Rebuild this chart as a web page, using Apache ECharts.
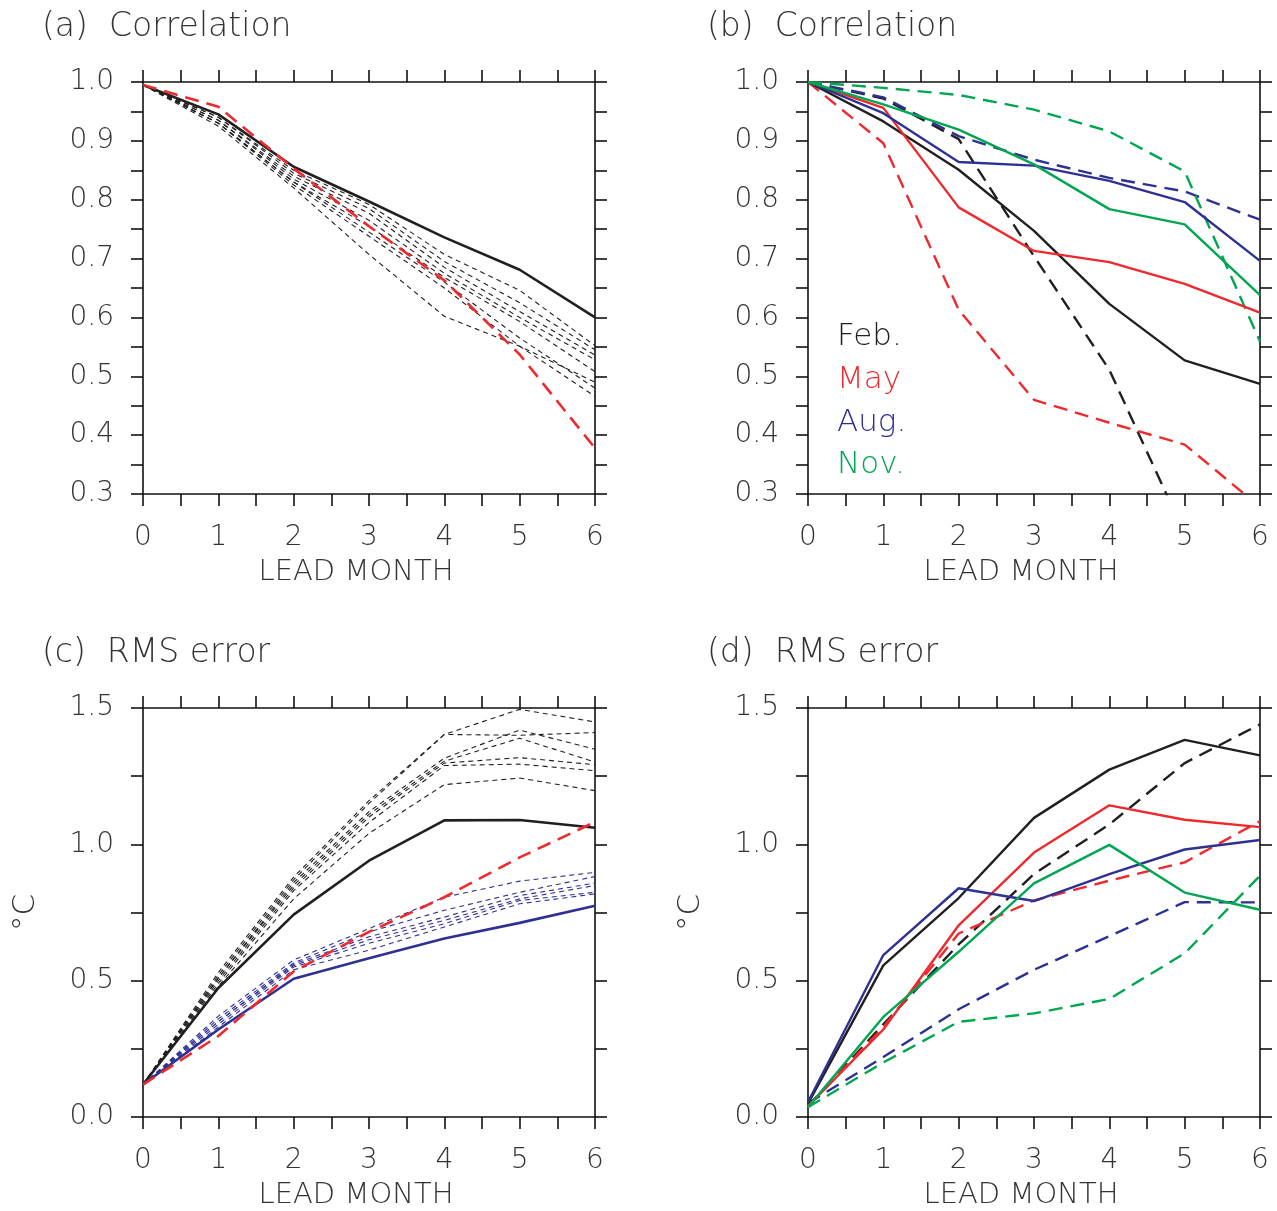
<!DOCTYPE html>
<html>
<head>
<meta charset="utf-8">
<script src="https://cdn.jsdelivr.net/npm/echarts@6/dist/echarts.min.js"></script>
<style>
html,body{margin:0;padding:0;background:#fff;}
#chart{width:1277px;height:1211px;}
</style>
</head>
<body>
<div id="chart"></div>
<script>
// ---------- DATA ----------
const leads = [0, 1, 2, 3, 4, 5, 6];
const xTickLabels = ['0', '1', '2', '3', '4', '5', '6'];

// (a) Correlation
const corrA_solid = [0.995, 0.945, 0.856, 0.797, 0.736, 0.681, 0.600];
const corrA_red   = [0.995, 0.958, 0.853, 0.755, 0.663, 0.537, 0.378];
const corrA_members = [
  [0.995, 0.940, 0.850, 0.792, 0.707, 0.646, 0.552],
  [0.995, 0.940, 0.845, 0.785, 0.695, 0.625, 0.545],
  [0.995, 0.935, 0.840, 0.777, 0.685, 0.610, 0.536],
  [0.995, 0.935, 0.835, 0.765, 0.675, 0.600, 0.528],
  [0.995, 0.930, 0.830, 0.755, 0.668, 0.593, 0.508],
  [0.995, 0.930, 0.830, 0.745, 0.660, 0.565, 0.480],
  [0.995, 0.930, 0.825, 0.738, 0.650, 0.551, 0.466],
  [0.995, 0.925, 0.820, 0.707, 0.602, 0.551, 0.490]
];

// (b) Correlation by start month (solid / dashed)
const corrB_feb_solid = [1.0, 0.933, 0.851, 0.747, 0.623, 0.527, 0.487];
const corrB_feb_dash  = [1.0, 0.972, 0.903, 0.704, 0.511, 0.232, 0.150];
const corrB_may_solid = [1.0, 0.956, 0.787, 0.713, 0.694, 0.657, 0.608];
const corrB_may_dash  = [1.0, 0.896, 0.613, 0.460, 0.421, 0.384, 0.278];
const corrB_aug_solid = [1.0, 0.947, 0.864, 0.858, 0.832, 0.796, 0.696];
const corrB_aug_dash  = [1.0, 0.974, 0.908, 0.868, 0.837, 0.814, 0.766];
const corrB_nov_solid = [1.0, 0.962, 0.919, 0.860, 0.784, 0.758, 0.638];
const corrB_nov_dash  = [1.0, 0.990, 0.978, 0.953, 0.916, 0.848, 0.559];
const monthLabels = ['Feb.', 'May', 'Aug.', 'Nov.'];

// (c) RMS error
const rmsC_black_solid = [0.119, 0.473, 0.742, 0.940, 1.088, 1.089, 1.061];
const rmsC_red         = [0.119, 0.297, 0.534, 0.679, 0.806, 0.952, 1.082];
const rmsC_blue_solid  = [0.119, 0.321, 0.507, 0.582, 0.655, 0.712, 0.775];
const rmsC_black_members = [
  [0.119, 0.530, 0.880, 1.160, 1.403, 1.495, 1.449],
  [0.119, 0.520, 0.870, 1.150, 1.403, 1.400, 1.410],
  [0.119, 0.510, 0.860, 1.120, 1.316, 1.419, 1.349],
  [0.119, 0.510, 0.850, 1.110, 1.305, 1.389, 1.302],
  [0.119, 0.500, 0.840, 1.100, 1.298, 1.318, 1.292],
  [0.119, 0.490, 0.830, 1.080, 1.289, 1.294, 1.270],
  [0.119, 0.480, 0.800, 1.040, 1.219, 1.243, 1.197]
];
const rmsC_blue_members = [
  [0.119, 0.370, 0.576, 0.691, 0.806, 0.865, 0.897],
  [0.119, 0.360, 0.565, 0.679, 0.758, 0.824, 0.882],
  [0.119, 0.350, 0.560, 0.661, 0.733, 0.812, 0.858],
  [0.119, 0.350, 0.555, 0.650, 0.721, 0.800, 0.849],
  [0.119, 0.340, 0.550, 0.637, 0.709, 0.794, 0.824],
  [0.119, 0.330, 0.540, 0.612, 0.697, 0.782, 0.818]
];

// (d) RMS error by start month
const rmsD_feb_solid = [0.049, 0.556, 0.803, 1.097, 1.274, 1.383, 1.326];
const rmsD_feb_dash  = [0.040, 0.340, 0.633, 0.891, 1.073, 1.298, 1.440];
const rmsD_may_solid = [0.040, 0.321, 0.703, 0.970, 1.143, 1.090, 1.063];
const rmsD_may_dash  = [0.040, 0.330, 0.673, 0.794, 0.867, 0.934, 1.085];
const rmsD_aug_solid = [0.055, 0.594, 0.839, 0.792, 0.891, 0.981, 1.016];
const rmsD_aug_dash  = [0.050, 0.220, 0.395, 0.540, 0.663, 0.788, 0.787];
const rmsD_nov_solid = [0.036, 0.367, 0.606, 0.857, 0.998, 0.823, 0.760];
const rmsD_nov_dash  = [0.036, 0.200, 0.349, 0.380, 0.433, 0.600, 0.885];

// ---------- STYLE ----------
const FONT = "'DejaVu Sans', 'Liberation Sans', sans-serif";
const TXT = '#333';
const C_BLACK = '#231f20', C_RED = '#ee2a2e', C_BLUE = '#2e3192', C_GREEN = '#00a651';

const grids = [
  {left: 143, top: 82,  width: 452, height: 412},
  {left: 808, top: 82,  width: 452, height: 412},
  {left: 143, top: 708, width: 452, height: 412},
  {left: 808, top: 708, width: 452, height: 412}
];

function pts(arr) { return leads.map((x, i) => [x, arr[i]]); }

const axLine = {onZero: false, lineStyle: {color: '#111', width: 1.6}};
const axTick = {show: true, length: 12, inside: false, lineStyle: {color: '#111', width: 1.6}};

const xAxes = [], yAxes = [];
grids.forEach((g, gi) => {
  const isCorr = gi < 2;
  xAxes.push({
    type: 'value', gridIndex: gi, position: 'bottom', min: 0, max: 6, interval: 0.5,
    axisLine: axLine, axisTick: axTick, splitLine: {show: false},
    axisLabel: {
      fontSize: 28, margin: 30, color: TXT, fontFamily: FONT, fontWeight: 200,
      formatter: v => (Math.abs(v - Math.round(v)) < 1e-6) ? xTickLabels[Math.round(v)] : ''
    },
    name: 'LEAD MONTH', nameLocation: 'middle', nameGap: 64,
    nameTextStyle: {fontSize: 29, color: TXT, fontFamily: FONT, fontWeight: 200, padding: [0, 26, 0, 0]}
  });
  xAxes.push({
    type: 'value', gridIndex: gi, position: 'top', min: 0, max: 6, interval: 0.5,
    axisLine: axLine, axisTick: axTick, splitLine: {show: false}, axisLabel: {show: false}
  });
  const ymin = isCorr ? 0.3 : 0.0, ymax = isCorr ? 1.0 : 1.5, yint = isCorr ? 0.05 : 0.25;
  const step = isCorr ? 0.1 : 0.5;
  const left = {
    type: 'value', gridIndex: gi, position: 'left', min: ymin, max: ymax, interval: yint,
    axisLine: axLine, axisTick: axTick, splitLine: {show: false},
    axisLabel: {
      fontSize: 28, margin: 29, color: TXT, fontFamily: FONT, fontWeight: 200,
      padding: [12, 0, 0, 0],
      formatter: v => { const q = v / step; return Math.abs(q - Math.round(q)) < 1e-6 ? v.toFixed(1) : ''; }
    }
  };
  if (!isCorr) {
    left.name = '°C';
    left.nameLocation = 'middle';
    left.nameRotate = 90;
    left.nameGap = 102;
    left.nameTextStyle = {fontSize: 31, color: TXT, fontFamily: FONT, fontWeight: 200};
  }
  yAxes.push(left);
  yAxes.push({
    type: 'value', gridIndex: gi, position: 'right', min: ymin, max: ymax, interval: yint,
    axisLine: axLine, axisTick: axTick, splitLine: {show: false}, axisLabel: {show: false}
  });
});

const series = [];
function add(name, arr, gi, color, width, dash, z) {
  series.push({
    name: name, type: 'line', xAxisIndex: gi * 2, yAxisIndex: gi * 2,
    data: pts(arr), symbol: 'none', clip: true, silent: true, z: z,
    lineStyle: {color: color, width: width, type: dash || 'solid'}
  });
}
const THIN = [5, 4], THICK = [14, 8];

// (a)
corrA_members.forEach((m, i) => add('member ' + (i + 1), m, 0, C_BLACK, 1.1, THIN, 2));
add('ensemble', corrA_solid, 0, C_BLACK, 2.6, null, 3);
add('persistence', corrA_red, 0, C_RED, 2.6, THICK, 4);
// (b)
add(monthLabels[0] + ' dashed', corrB_feb_dash, 1, C_BLACK, 2.4, THICK, 3);
add(monthLabels[1] + ' dashed', corrB_may_dash, 1, C_RED, 2.4, THICK, 3);
add(monthLabels[2] + ' dashed', corrB_aug_dash, 1, C_BLUE, 2.4, THICK, 3);
add(monthLabels[3] + ' dashed', corrB_nov_dash, 1, C_GREEN, 2.4, THICK, 3);
add(monthLabels[0], corrB_feb_solid, 1, C_BLACK, 2.4, null, 4);
add(monthLabels[1], corrB_may_solid, 1, C_RED, 2.4, null, 4);
add(monthLabels[2], corrB_aug_solid, 1, C_BLUE, 2.4, null, 4);
add(monthLabels[3], corrB_nov_solid, 1, C_GREEN, 2.4, null, 4);
// (c)
rmsC_black_members.forEach((m, i) => add('rms member ' + (i + 1), m, 2, C_BLACK, 1.1, THIN, 2));
rmsC_blue_members.forEach((m, i) => add('rms blue member ' + (i + 1), m, 2, C_BLUE, 1.1, THIN, 2));
add('rms ensemble', rmsC_black_solid, 2, C_BLACK, 2.6, null, 3);
add('rms blue', rmsC_blue_solid, 2, C_BLUE, 2.6, null, 3);
add('rms persistence', rmsC_red, 2, C_RED, 2.6, THICK, 4);
// (d)
add(monthLabels[0] + ' rms dashed', rmsD_feb_dash, 3, C_BLACK, 2.4, THICK, 3);
add(monthLabels[1] + ' rms dashed', rmsD_may_dash, 3, C_RED, 2.4, THICK, 3);
add(monthLabels[2] + ' rms dashed', rmsD_aug_dash, 3, C_BLUE, 2.4, THICK, 3);
add(monthLabels[3] + ' rms dashed', rmsD_nov_dash, 3, C_GREEN, 2.4, THICK, 3);
add(monthLabels[0] + ' rms', rmsD_feb_solid, 3, C_BLACK, 2.4, null, 4);
add(monthLabels[1] + ' rms', rmsD_may_solid, 3, C_RED, 2.4, null, 4);
add(monthLabels[2] + ' rms', rmsD_aug_solid, 3, C_BLUE, 2.4, null, 4);
add(monthLabels[3] + ' rms', rmsD_nov_solid, 3, C_GREEN, 2.4, null, 4);

const titleStyle = {fontSize: 33, color: TXT, fontFamily: FONT, fontWeight: 200};
const legendColors = [C_BLACK, C_RED, C_BLUE, C_GREEN];
const legendY = [338, 381, 424, 466];

const option = {
  animation: false,
  backgroundColor: '#fff',
  title: [
    {text: '(a)  Correlation', left: 37, top: 6, textStyle: titleStyle},
    {text: '(b)  Correlation', left: 702, top: 6, textStyle: titleStyle},
    {text: '(c)  RMS error', left: 37, top: 632, textStyle: titleStyle},
    {text: '(d)  RMS error', left: 702, top: 632, textStyle: titleStyle}
  ],
  grid: grids,
  xAxis: xAxes,
  yAxis: yAxes,
  series: series,
  graphic: monthLabels.map((t, i) => ({
    type: 'text', left: 837, top: legendY[i] - 17, silent: true,
    style: {text: t, fill: legendColors[i], font: '200 31px ' + FONT}
  }))
};

const chart = echarts.init(document.getElementById('chart'), null, {renderer: 'canvas'});
chart.setOption(option);
</script>
</body>
</html>
